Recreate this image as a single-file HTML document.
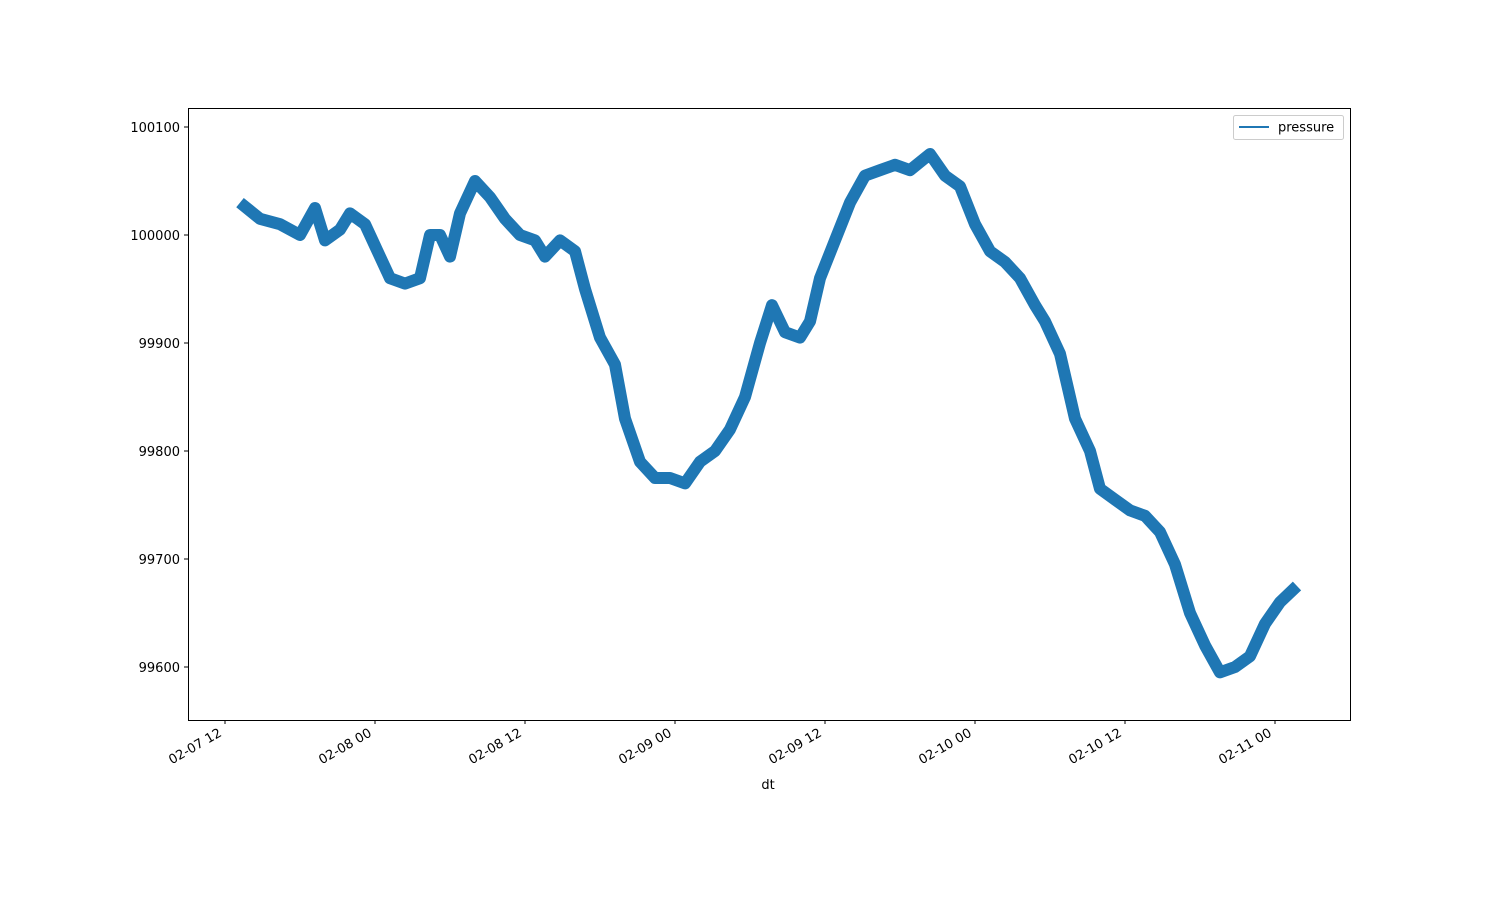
<!DOCTYPE html>
<html><head><meta charset="utf-8"><style>
body{margin:0;background:#fff;font-family:"Liberation Sans","DejaVu Sans",sans-serif}
svg text{font-family:"DejaVu Sans","Liberation Sans",sans-serif;font-size:13px;fill:#000}
</style></head><body>
<svg id="chart" width="1500" height="900" xmlns="http://www.w3.org/2000/svg">
<rect x="0" y="0" width="1500" height="900" fill="#fff"/>
<g id="ticks"></g>
<path id="line" fill="none" stroke="#1f77b4" stroke-width="12" stroke-linejoin="round" stroke-linecap="butt"/>
<rect x="188.5" y="108.5" width="1162" height="612" fill="none" stroke="#000" stroke-width="1"/>
<text x="768" y="789" text-anchor="middle">dt</text>
<g>
<rect x="1233.5" y="115.5" width="110" height="24" rx="2" fill="#fff" stroke="#ccc"/>
<line x1="1239" y1="127" x2="1269" y2="127" stroke="#1f77b4" stroke-width="2"/>
<text x="1278" y="131.5">pressure</text>
</g>
</svg>
<script>
const hours=[1.2,2.8,4.4,6,7.2,8,9.2,10,11.2,12,13.2,14.4,15.6,16.4,17.2,18,18.8,20,21.2,22.4,23.6,24.8,25.6,26.8,28,28.8,30,31.2,32,33.2,34.4,35.6,36.8,38,39.2,40.4,41.6,42.8,43.76,44.8,46,46.8,47.6,48.8,50,51.2,52.4,53.6,54.8,56.4,57.6,58.8,60,61.2,62.4,63.6,64.8,65.6,66.8,68,69.2,70,71.2,72.4,73.6,74.8,76,77.2,78.4,79.6,80.8,82,83.2,84.4,85.76];
const pressure=[100030,100015,100010,100000,100025,99995,100005,100020,100010,99990,99960,99955,99960,100000,100000,99980,100020,100050,100035,100015,100000,99995,99980,99995,99985,99950,99905,99880,99830,99790,99775,99775,99770,99790,99800,99820,99850,99900,99935,99910,99905,99920,99960,99995,100030,100055,100060,100065,100060,100075,100055,100045,100010,99985,99975,99960,99935,99920,99890,99830,99800,99765,99755,99745,99740,99725,99695,99650,99620,99595,99600,99610,99640,99660,99675];
const yTicks=[99600,99700,99800,99900,100000,100100];
const xTickHours=[0,12,24,36,48,60,72,84];
const xTickLabels=["02-07 12","02-08 00","02-08 12","02-09 00","02-09 12","02-10 00","02-10 12","02-11 00"];
const X=h=>225+h*12.5;
const Y=v=>235-(v-100000)*1.08;
const NS="http://www.w3.org/2000/svg";
const g=document.getElementById('ticks');
let d=hours.map((h,i)=>(i?'L':'M')+X(h).toFixed(1)+' '+Y(pressure[i]).toFixed(1)).join(' ');
document.getElementById('line').setAttribute('d',d);
yTicks.forEach(v=>{
 const y=Y(v);
 const l=document.createElementNS(NS,'line');
 
 
 l.setAttribute('x1',184);l.setAttribute('x2',188);l.setAttribute('y1',y);l.setAttribute('y2',y);l.setAttribute('stroke','#000');
 g.appendChild(l);
 const t=document.createElementNS(NS,'text');
 
 
 t.setAttribute('x',180);t.setAttribute('y',y+5);t.setAttribute('text-anchor','end');t.textContent=v;
 g.appendChild(t);
});
xTickHours.forEach((h,i)=>{
 const x=X(h);
 const l=document.createElementNS(NS,'line');
 
 
 l.setAttribute('x1',x);l.setAttribute('x2',x);l.setAttribute('y1',720);l.setAttribute('y2',724);l.setAttribute('stroke','#000');
 g.appendChild(l);
 const t=document.createElementNS(NS,'text');
 
 
 t.setAttribute('text-anchor','end');
 t.setAttribute('transform','translate('+(x-5)+',731) rotate(-30)');
 t.setAttribute('y',5);
 t.textContent=xTickLabels[i];
 g.appendChild(t);
});
</script>
</body></html>
